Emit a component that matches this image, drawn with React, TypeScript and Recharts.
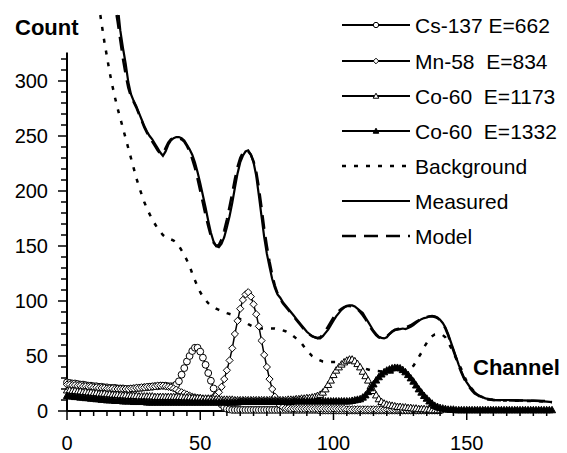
import React from 'react';
import { ComposedChart, Line, XAxis, YAxis, ReferenceLine } from 'recharts';

// component spectra, one value per channel (index = channel)
const CS137 = [
  26, 25.5, 25, 25, 24.5, 24, 24, 23.5, 23, 23,
  22.5, 22.5, 22, 22, 21.5, 21.5, 21, 21, 21, 20.5,
  20.5, 20.5, 20, 20, 20, 20.5, 20.5, 21, 21, 21.5,
  21.5, 22, 22, 22.5, 22.5, 23, 23, 23, 22.5, 22.5,
  22.5, 24, 27, 33, 39, 45, 50, 54.5, 57.5, 57.5,
  54, 48.5, 42, 34.5, 27.5, 20.5, 14.5, 9.5, 6, 3.5,
  2, 1.5, 1, 1, 1, 1, 1, 1, 1, 1,
  1, 1, 1, 1, 1, 1, 1, 1, 1, 1,
  1, 1, 1, 1, 1, 1, 1, 1, 1, 1,
  1, 1, 1, 1, 1, 0.5, 0.5, 0.5, 0.5, 0.5,
  0.5, 0.5, 0.5, 0.5, 0.5, 0.5, 0.5, 0.5, 0.5, 0.5,
  0.5, 0.5, 0.5, 0.5, 0.5, 0.5, 0.5, 0.5, 0.5, 0.5,
  0.5, 0.5, 0.5, 0.5, 0.5, 0.5, 0.5, 0.5, 0.5, 0.5,
  0.5, 0.5, 0.5, 0.5, 0.5, 0.5, 0.5, 0.5, 0.5, 0.5,
  0.5,
];

const MN58 = [
  24, 24, 23.5, 23.5, 23, 23, 22.5, 22.5, 22, 22,
  21.5, 21.5, 21, 21, 21, 20.5, 20.5, 20.5, 20, 20,
  20, 20, 20, 20, 20.5, 20.5, 21, 21, 21.5, 21.5,
  22, 22, 22.5, 22.5, 23, 23, 23, 22.5, 22, 21.5,
  20.5, 19.5, 18, 17, 16, 15, 14, 13, 12.5, 12,
  11.5, 11, 11, 11, 11.5, 12.5, 14, 17, 22, 29,
  37, 46, 57, 70, 82, 93, 101, 106, 108, 104,
  97, 88, 77, 64, 51, 40, 29, 20, 13, 8,
  5, 3.5, 2.5, 2.5, 2, 2, 2, 2, 2, 2,
  2, 2, 2, 2, 2, 2, 2, 2, 2, 2,
  2, 2, 2, 2, 2, 1.5, 1.5, 1.5, 1.5, 1.5,
  1.5, 1.5, 1.5, 1.5, 1.5, 1.5, 1.5, 1.5, 1.5, 1.5,
  1.5, 1.5, 1.5, 1.5, 1.5, 1, 1, 1, 1, 1,
  1, 1, 1, 1, 1, 1, 1, 1, 1, 1,
  1,
];

const CO1173 = [
  19, 19, 18.5, 18.5, 18, 18, 17.5, 17.5, 17, 17,
  16.5, 16.5, 16, 16, 16, 15.5, 15.5, 15, 15, 15,
  14.5, 14.5, 14.5, 14, 14, 14, 14, 13.5, 13.5, 13.5,
  13.5, 13.5, 13.5, 13, 13, 13, 13, 13, 13, 13,
  13, 13, 13, 13, 12.5, 12.5, 12.5, 12, 12, 12,
  12, 11.5, 11.5, 11.5, 11, 11, 11, 11, 10.5, 10.5,
  10.5, 10.5, 10.5, 10, 10, 10, 10, 10, 10, 10,
  10, 10, 10, 10, 10, 10, 10, 10, 10, 10,
  10, 10, 10, 10.5, 10.5, 10.5, 11, 11, 11.5, 11.5,
  12, 12, 12.5, 13, 14, 15, 17, 20, 24, 28,
  33, 37, 40, 42.5, 44.5, 46, 47, 47, 45.5, 43,
  40, 36, 32, 28, 23, 18.5, 14.5, 11, 8.5, 7,
  6, 5.5, 5, 4.5, 4, 4, 3.5, 3.5, 3, 3,
  2.5, 2.5, 2, 2, 2, 1.5, 1.5, 1, 1, 1,
  1,
];

const CO1332 = [
  14, 13.5, 13.5, 13, 13, 12.5, 12.5, 12, 12, 11.5,
  11.5, 11, 11, 10.5, 10.5, 10, 10, 10, 9.5, 9.5,
  9.5, 9, 9, 9, 9, 8.5, 8.5, 8.5, 8.5, 8.5,
  8, 8, 8, 8, 8, 8, 8, 8, 8, 8,
  8, 8, 8, 8, 8, 8, 8, 8, 8, 8,
  8, 8, 8, 8, 8, 8, 8, 8, 8, 8,
  8, 8, 8, 8, 8, 8.5, 8.5, 8.5, 8.5, 8.5,
  8.5, 8.5, 8.5, 8.5, 8.5, 8.5, 8.5, 8.5, 8.5, 8.5,
  8.5, 8.5, 8.5, 8.5, 8.5, 9, 9, 9, 9, 9,
  9, 9, 9, 9, 9, 9, 9, 9, 9, 9,
  9, 9, 9, 9, 9, 9, 9, 9.5, 10, 10.5,
  11, 12.5, 14.5, 17.5, 21, 24.5, 28, 31, 33.5, 35.5,
  37, 38, 39, 39.5, 39.5, 39, 37.5, 35.5, 33, 30,
  27, 23.5, 20, 17, 14, 11.5, 9, 7, 5, 4,
  3, 2.5, 2, 1.5, 1.5, 1.5, 1, 1, 1, 1,
  1, 1, 1, 1, 1, 1, 1, 1, 1, 1,
  1, 1, 1, 1, 1, 1, 1, 1, 1, 1,
  1, 1, 1, 1, 1, 1, 1, 1, 1, 1,
  1, 1, 1,
];

// measured and model curves: channel / count pairs
const MEAS_CH = [
  19.4, 20, 21, 22, 23, 24, 25, 26, 27, 28, 29, 30, 31, 32, 33, 34, 35, 36, 37, 38,
  39, 40, 41, 42, 43, 44, 45, 46, 47, 48, 49, 50, 51, 52, 53, 54, 55, 56, 57, 58,
  59, 60, 61, 62, 63, 64, 65, 66, 67, 68, 69, 70, 71, 72, 73, 74, 75, 76, 77, 78,
  79, 80, 81, 82, 83, 84, 85, 86, 87, 88, 89, 90, 91, 92, 93, 94, 95, 96, 97, 98,
  99, 100, 101, 102, 103, 104, 105, 106, 107, 108, 109, 110, 111, 112, 113, 114, 115, 116, 117, 118,
  119, 120, 121, 122, 123, 124, 125, 126, 127, 128, 129, 130, 131, 132, 133, 134, 135, 136, 137, 138,
  139, 140, 141, 142, 143, 144, 145, 146, 147, 148, 149, 150, 151, 152, 153, 154, 155, 156, 157, 158,
  159, 160, 165, 170, 175, 178, 180, 182,
];
const MEAS_COUNTS = [
  360, 346, 330, 316, 299, 288, 282, 277, 271, 265, 259, 254, 250, 247, 243, 239, 235, 232, 236, 242,
  246, 248, 249, 249, 248, 246, 242, 238, 233, 226, 217, 207, 196, 185, 173, 162, 154, 150, 149, 152,
  158, 167, 177, 189, 203, 216, 226, 232, 236, 237, 233, 226, 214, 196, 177, 158, 143, 131, 120, 112,
  106, 103, 99, 96, 93, 90, 87, 84, 81, 78, 75, 72, 70, 68, 67, 66, 66, 68, 71, 74,
  78, 82, 86, 89, 92, 94, 95.5, 96, 96, 95, 93, 91, 89, 85, 81, 77, 73, 70, 67.5, 66.5,
  66, 67, 70, 72.5, 74, 74, 74.5, 75, 74.5, 75.5, 76.5, 78, 80, 82, 83.5, 84.5, 85, 86, 86.5, 86,
  85, 83, 80, 76, 70, 63, 56, 49, 42, 36, 30, 26, 22.5, 19.5, 17, 15, 13.5, 12.5, 11.5, 11,
  10.5, 10, 10, 9.7, 9.5, 9, 8.5, 8,
];

const MODEL_CH = [
  18.6, 19, 20, 21, 22, 23, 24, 25, 26, 27, 28, 29, 30, 31, 32, 33, 34, 35, 36, 37,
  38, 39, 40, 41, 42, 43, 44, 45, 46, 47, 48, 49, 50, 51, 52, 53, 54, 55, 56, 57,
  58, 59, 60, 61, 62, 63, 64, 65, 66, 67, 68, 69, 70, 71, 72, 73, 74, 75, 76, 77,
  78, 79, 80, 81, 82, 83, 84, 85, 86, 87, 88, 89, 90, 91, 92, 93, 94, 95, 96, 97,
  98, 99, 100, 101, 102, 103, 104, 105, 106, 107, 108, 109, 110, 111, 112, 113, 114, 115, 116, 117,
  118, 119, 120, 121, 122, 123, 124, 125, 126, 127, 128, 129, 130, 131, 132, 133, 134, 135, 136, 137,
  138, 139, 140, 141, 142, 143, 144, 145, 146, 147, 148, 149, 150, 151, 152, 153, 154, 155, 156, 157,
  158, 160, 165, 170, 175, 180, 182,
];
const MODEL_COUNTS = [
  360, 354, 337, 320, 306, 294, 286, 281, 276, 270, 264, 258, 253, 249, 245, 241, 237, 234, 234, 239,
  244, 247, 248, 248, 248, 247, 245, 241, 236, 229, 221, 211, 200, 189, 178, 168, 159, 153, 150, 151,
  156, 164, 174, 186, 198, 211, 222, 230, 235, 237, 236, 233, 227, 218, 203, 185, 166, 150, 136, 124,
  114, 107, 102, 98, 95, 92, 89, 86, 83, 80, 77, 74, 71.5, 69.5, 68, 67, 66.5, 67, 69.5, 73,
  77, 81, 85, 88.5, 91, 93, 94.5, 95.5, 95.5, 95, 94, 92.5, 90, 87, 83.5, 79.5, 75.5, 72, 69, 67,
  66, 66.5, 68, 70, 72, 73.5, 74.5, 75, 75.5, 76, 77, 78, 79.5, 81, 82.5, 84, 85, 85.5, 86, 86,
  85.5, 84.5, 82.5, 79.5, 75, 69, 62, 55, 48, 41, 35, 29.5, 25, 21.5, 18.5, 16, 14.5, 13, 12, 11,
  10.5, 10, 9.8, 9.5, 9.3, 9, 8.8,
];

const BG_CH = [
  12.5, 13, 14, 15, 16, 17, 18, 19, 20, 21, 22, 23, 24, 25, 26, 27, 28, 29, 30, 31,
  32, 33, 34, 35, 36, 37, 38, 39, 40, 41, 42, 43, 44, 45, 46, 47, 48, 49, 50, 51,
  52, 53, 54, 55, 56, 57, 58, 59, 60, 62, 64, 66, 68, 70, 72, 74, 76, 78, 80, 82,
  84, 86, 88, 90, 92, 94, 96, 98, 100, 102, 104, 106, 108, 110, 112, 114, 116, 118, 120, 122,
  124, 126, 128, 130, 131, 132, 133, 134, 135, 136, 137, 138, 139, 140, 141, 142, 143, 144, 145, 146,
  147, 148, 149, 150, 151, 152, 153, 154, 155, 156, 158, 160, 165, 170, 175, 180, 182,
];
const BG_COUNTS = [
  360, 352, 336, 322, 308, 296, 285, 275, 266, 257, 248, 239, 230, 221, 212, 204, 197, 190, 184, 179,
  174, 170, 166, 163, 160, 158, 157, 156, 155, 153, 150, 146, 142, 137, 132, 125, 119, 113, 108, 104,
  101, 98, 96, 94.5, 93, 92, 91, 90, 89, 87.5, 85, 82, 79, 76.5, 75, 75, 75, 75, 74, 72.5,
  70, 66, 61.5, 55, 50, 47, 45, 44.5, 44.5, 44.5, 44.5, 43.5, 42, 40, 38.5, 37, 36.5, 36, 35.5, 35,
  35, 36, 38, 41, 45, 49, 53, 58, 62, 66, 68, 69.5, 70, 70, 69, 67, 63, 58, 53, 48,
  43, 38, 32, 27, 23, 20, 17, 15, 13.5, 12.5, 11, 10, 9.5, 9.2, 9, 8.5, 8,
];

const Y_TICKS = [0, 10, 20, 30, 40, 50, 60, 70, 80, 90, 100, 110, 120, 130, 140, 150, 160,
  170, 180, 190, 200, 210, 220, 230, 240, 250, 260, 270, 280, 290, 300, 310, 320];
const X_TICKS = [0, 5, 10, 15, 20, 25, 30, 35, 40, 45, 50, 55, 60, 65, 70, 75, 80, 85, 90,
  95, 100, 105, 110, 115, 120, 125, 130, 135, 140, 145, 150, 155, 160, 165, 170, 175, 180];

const LEGEND = [
  { name: 'Cs-137 E=662', mark: 'circle' },
  { name: 'Mn-58  E=834', mark: 'diamond' },
  { name: 'Co-60  E=1173', mark: 'triangle' },
  { name: 'Co-60  E=1332', mark: 'filled' },
  { name: 'Background', mark: 'dotted' },
  { name: 'Measured', mark: 'solid' },
  { name: 'Model', mark: 'dashed' },
];

const FONT = '"Liberation Sans", Arial, sans-serif';

const toPoints = (vals: number[]) => vals.map((y, ch) => ({ ch, y }));
const pairs = (xs: number[], ys: number[]) => xs.map((ch, i) => ({ ch, y: ys[i] }));

// marker shapes
const Marker = ({ kind, cx, cy, s }: { kind: string; cx: number; cy: number; s: number }) => {
  if (kind === 'circle') {
    return <circle cx={cx} cy={cy} r={s * 0.95} fill="#fff" stroke="#000" strokeWidth={1} />;
  }
  if (kind === 'diamond') {
    return (
      <polygon
        points={`${cx},${cy - s} ${cx + s},${cy} ${cx},${cy + s} ${cx - s},${cy}`}
        fill="#fff" stroke="#000" strokeWidth={1}
      />
    );
  }
  const pts = `${cx},${cy - s} ${cx + s},${cy + s * 0.8} ${cx - s},${cy + s * 0.8}`;
  return <polygon points={pts} fill={kind === 'filled' ? '#000' : '#fff'} stroke="#000" strokeWidth={1} />;
};

const dotFor = (kind: string) => (p: any) => {
  if (p.cx == null || p.cy == null) return <g key={p.index} />;
  return <Marker key={p.index} kind={kind} cx={p.cx} cy={p.cy} s={3.6} />;
};

const YTick = ({ x, y, payload }: any) => {
  const major = payload.value % 50 === 0;
  return (
    <g>
      <line x1={x - (major ? 9 : 6)} x2={x} y1={y} y2={y} stroke="#000" strokeWidth={1.5} />
      {major && (
        <text x={x - 19} y={y + 7} textAnchor="end" fontSize={20} fontFamily={FONT} fill="#000">
          {payload.value}
        </text>
      )}
    </g>
  );
};

const XTick = ({ x, y, payload }: any) => {
  const major = payload.value % 50 === 0;
  return (
    <g>
      <line x1={x} x2={x} y1={y} y2={y + (major ? 9 : 5)} stroke="#000" strokeWidth={1.5} />
      {major && (
        <text x={x} y={y + 39} textAnchor="middle" fontSize={20} fontFamily={FONT} fill="#000">
          {payload.value}
        </text>
      )}
    </g>
  );
};

const LegendOverlay = () => {
  const rows = [25, 61, 96, 131, 166, 201, 236];
  return (
    <svg width={567} height={453} style={{ position: 'absolute', left: 0, top: 0, pointerEvents: 'none' }}>
      <text x={15} y={35} fontSize={22} fontWeight="bold" fontFamily={FONT}>Count</text>
      <text x={473} y={375} fontSize={22} fontWeight="bold" fontFamily={FONT}>Channel</text>
      {LEGEND.map((item, i) => {
        const y = rows[i];
        const dash = item.mark === 'dotted' ? '4 8' : item.mark === 'dashed' ? '14 8' : undefined;
        const width = item.mark === 'dotted' || item.mark === 'dashed' ? 2.5 : 2;
        return (
          <g key={item.name}>
            <line x1={342} x2={410} y1={y} y2={y} stroke="#000" strokeWidth={width} strokeDasharray={dash} />
            {['circle', 'diamond', 'triangle', 'filled'].includes(item.mark) && (
              <Marker kind={item.mark} cx={376} cy={y} s={2.8} />
            )}
            <text x={415} y={y + 7.5} fontSize={21} fontFamily={FONT} style={{ whiteSpace: 'pre' }}>
              {item.name}
            </text>
          </g>
        );
      })}
    </svg>
  );
};

export default function App() {
  return (
    <div style={{ position: 'absolute', left: 0, top: 0, width: 567, height: 453, background: '#fff' }}>
      <ComposedChart width={567} height={453} margin={{ top: 15, right: 15, bottom: 12, left: 7 }}>
        <XAxis
          type="number"
          dataKey="ch"
          domain={[0, 182]}
          ticks={X_TICKS}
          interval={0}
          height={30}
          tickSize={0}
          tickMargin={0}
          tickLine={false}
          axisLine={{ stroke: '#000', strokeWidth: 2 }}
          tick={(p: any) => <XTick {...p} />}
        />
        <YAxis
          type="number"
          domain={[0, 360]}
          ticks={Y_TICKS}
          interval={0}
          width={60}
          tickSize={0}
          tickMargin={0}
          tickLine={false}
          axisLine={false}
          tick={(p: any) => <YTick {...p} />}
        />
        <ReferenceLine segment={[{ x: 0, y: 0 }, { x: 0, y: 326 }]} stroke="#000" strokeWidth={2} />
        <Line data={toPoints(CS137)} dataKey="y" stroke="#000" strokeWidth={1.5}
          dot={dotFor('circle')} isAnimationActive={false} />
        <Line data={toPoints(MN58)} dataKey="y" stroke="#000" strokeWidth={1.5}
          dot={dotFor('diamond')} isAnimationActive={false} />
        <Line data={toPoints(CO1173)} dataKey="y" stroke="#000" strokeWidth={1.5}
          dot={dotFor('triangle')} isAnimationActive={false} />
        <Line data={toPoints(CO1332)} dataKey="y" stroke="#000" strokeWidth={1.5}
          dot={dotFor('filled')} isAnimationActive={false} />
        <Line data={pairs(BG_CH, BG_COUNTS)} dataKey="y" stroke="#000" strokeWidth={2.5}
          strokeDasharray="4 8" dot={false} isAnimationActive={false} />
        <Line data={pairs(MODEL_CH, MODEL_COUNTS)} dataKey="y" stroke="#000" strokeWidth={2.5}
          strokeDasharray="14 8" dot={false} isAnimationActive={false} />
        <Line data={pairs(MEAS_CH, MEAS_COUNTS)} dataKey="y" stroke="#000" strokeWidth={2.2}
          dot={false} isAnimationActive={false} />
      </ComposedChart>
      <LegendOverlay />
    </div>
  );
}
